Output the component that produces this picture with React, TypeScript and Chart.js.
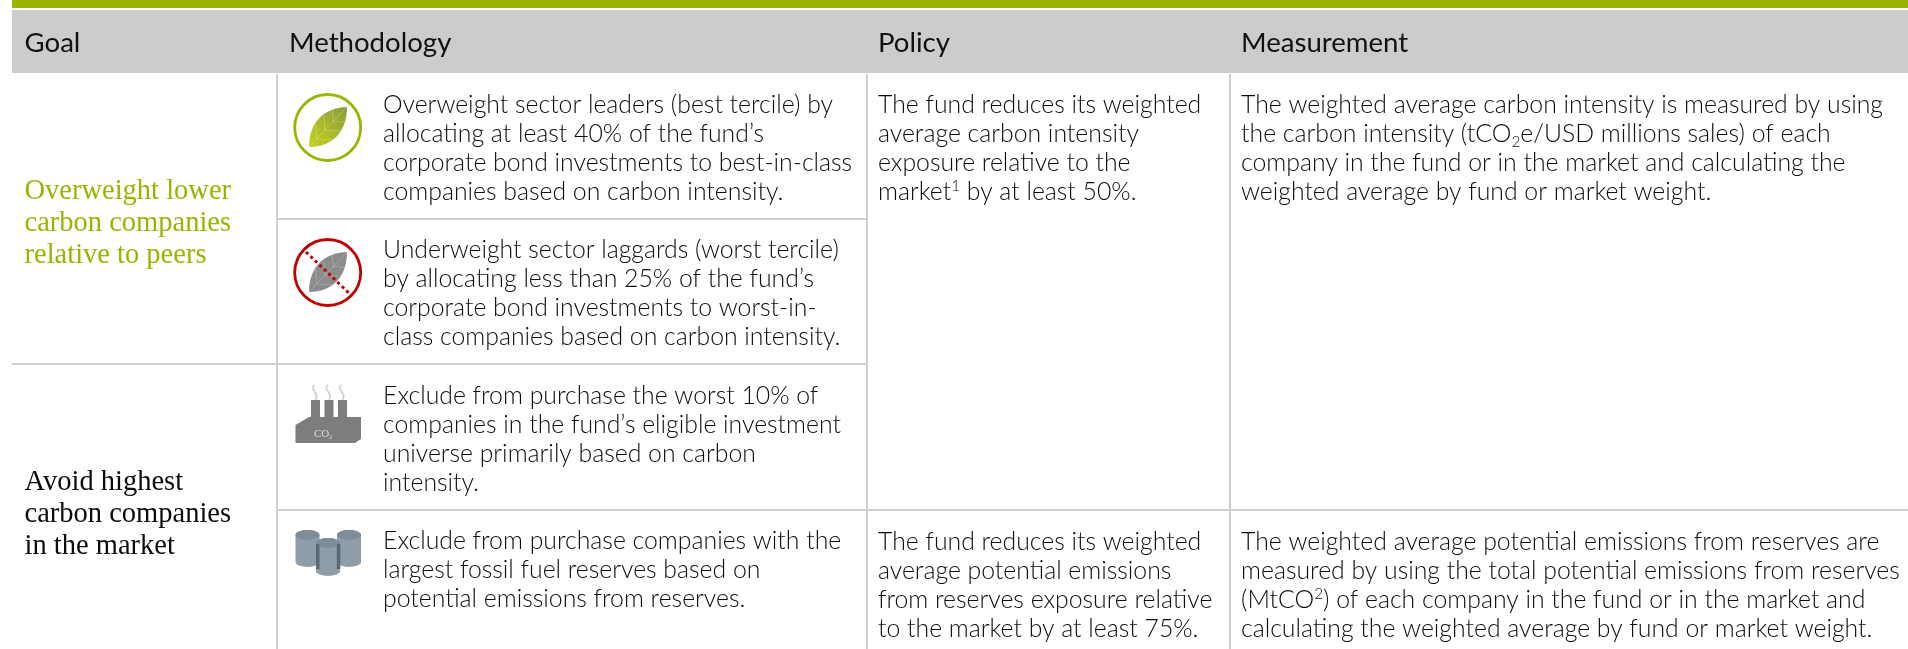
import React, { useEffect, useRef } from "react";
import { Chart, registerables } from "chart.js";

Chart.register(...registerables);

const headers = ["Goal", "Methodology", "Policy", "Measurement"];
const goalOverweight = ["Overweight lower", "carbon companies", "relative to peers"];
const goalAvoid = ["Avoid highest", "carbon companies", "in the market"];
const methodLeaders = [
  "Overweight sector leaders (best tercile) by",
  "allocating at least 40% of the fund’s",
  "corporate bond investments to best-in-class",
  "companies based on carbon intensity.",
];
const methodLaggards = [
  "Underweight sector laggards (worst tercile)",
  "by allocating less than 25% of the fund’s",
  "corporate bond investments to worst-in-",
  "class companies based on carbon intensity.",
];
const methodExclude = [
  "Exclude from purchase the worst 10% of",
  "companies in the fund’s eligible investment",
  "universe primarily based on carbon",
  "intensity.",
];
const methodReserves = [
  "Exclude from purchase companies with the",
  "largest fossil fuel reserves based on",
  "potential emissions from reserves.",
];
const policyIntensity = [
  "The fund reduces its weighted",
  "average carbon intensity",
  "exposure relative to the",
  "market^1 by at least 50%.",
];
const policyReserves = [
  "The fund reduces its weighted",
  "average potential emissions",
  "from reserves exposure relative",
  "to the market by at least 75%.",
];
const measureIntensity = [
  "The weighted average carbon intensity is measured by using",
  "the carbon intensity (tCO_2e/USD millions sales) of each",
  "company in the fund or in the market and calculating the",
  "weighted average by fund or market weight.",
];
const measureReserves = [
  "The weighted average potential emissions from reserves are",
  "measured by using the total potential emissions from reserves",
  "(MtCO^2) of each company in the fund or in the market and",
  "calculating the weighted average by fund or market weight.",
];

const GREEN = "#9ab400";
const INK = "#0c0c0c";
const RULE = "#cfcfcf";
const BODY_FONT = "300 24.8px Lato";
const HEAD_FONT = "400 27.6px Lato";
const SERIF_FONT = "400 28.5px 'Liberation Serif'";

type Block = { lines: string[]; x: number; y: number; step: number; font: string; color: string };
const body = (lines: string[], x: number, y: number, step = 28.9): Block => ({
  lines, x, y, step, font: BODY_FONT, color: INK,
});
const blocks: Block[] = [
  { lines: goalOverweight, x: 24.5, y: 198.5, step: 32, font: SERIF_FONT, color: GREEN },
  { lines: goalAvoid, x: 24.5, y: 489.5, step: 32, font: SERIF_FONT, color: INK },
  body(methodLeaders, 383, 113),
  body(methodLaggards, 383, 258),
  body(methodExclude, 383, 404),
  body(methodReserves, 383, 549),
  body(policyIntensity, 878, 113),
  body(policyReserves, 878, 550),
  body(measureIntensity, 1241, 113),
  body(measureReserves, 1241, 550),
];
const headerX = [24.5, 289, 878, 1241];

type Seg = [number, number, number, number, string, number];
const segments: Seg[] = [
  [12, 4, 1908, 4, GREEN, 8],
  [12, 41.5, 1908, 41.5, "#cccccc", 63],
  [277, 10, 277, 73, "#ffffff", 3],
  [867, 10, 867, 73, "#ffffff", 3],
  [1230, 10, 1230, 73, "#ffffff", 3],
  [277, 74, 277, 649, RULE, 2],
  [867, 74, 867, 649, RULE, 2],
  [1230, 74, 1230, 649, RULE, 2],
  [277, 219, 867, 219, RULE, 2],
  [12, 364, 867, 364, RULE, 2],
  [277, 510, 1908, 510, RULE, 2],
];

function drawRuns(ctx: CanvasRenderingContext2D, text: string, x: number, y: number, font: string, color: string) {
  const m = font.match(/^(\d+) ([\d.]+)px (.*)$/)!;
  const size = parseFloat(m[2]);
  ctx.fillStyle = color;
  let cx = x;
  for (const part of text.split(/([\^_]\d)/)) {
    if (!part) continue;
    if (/^[\^_]\d$/.test(part)) {
      ctx.font = `${m[1]} ${size * 0.62}px ${m[3]}`;
      const dy = part[0] === "^" ? -size * 0.36 : size * 0.2;
      ctx.fillText(part[1], cx, y + dy);
      cx += ctx.measureText(part[1]).width;
    } else {
      ctx.font = font;
      ctx.fillText(part, cx, y);
      cx += ctx.measureText(part).width;
    }
  }
}

function leaf(ctx: CanvasRenderingContext2D, dy: number, c1: string, c2: string, vein: string) {
  const g = ctx.createLinearGradient(309, 147 + dy, 347, 107 + dy);
  g.addColorStop(0, c1);
  g.addColorStop(1, c2);
  ctx.fillStyle = g;
  ctx.beginPath();
  ctx.moveTo(347, 107 + dy);
  ctx.bezierCurveTo(322, 108 + dy, 309, 124 + dy, 309, 147 + dy);
  ctx.bezierCurveTo(334, 147 + dy, 347, 130 + dy, 347, 107 + dy);
  ctx.fill();
  ctx.strokeStyle = vein;
  ctx.lineWidth = 0.7;
  ctx.beginPath();
  ctx.moveTo(309, 147 + dy);
  ctx.lineTo(347, 107 + dy);
  for (const t of [0.2, 0.42, 0.64]) {
    const bx = 309 + 38 * t;
    const by = 147 - 40 * t + dy;
    ctx.moveTo(bx, by);
    ctx.lineTo(bx - 1, by - 17 + t * 8);
    ctx.moveTo(bx, by);
    ctx.lineTo(bx + 17 - t * 8, by + 1);
  }
  ctx.stroke();
}

function ring(ctx: CanvasRenderingContext2D, cy: number, color: string) {
  ctx.strokeStyle = color;
  ctx.lineWidth = 2.8;
  ctx.beginPath();
  ctx.ellipse(327.7, cy, 33, 33, 0, 0, Math.PI * 2);
  ctx.stroke();
}

function factory(ctx: CanvasRenderingContext2D) {
  ctx.fillStyle = "#7d7d7d";
  for (const x of [311, 324.5, 338]) ctx.fillRect(x, 400, 9, 20);
  ctx.beginPath();
  ctx.moveTo(295.5, 425);
  ctx.lineTo(309, 417);
  ctx.lineTo(361, 417);
  ctx.lineTo(361, 439);
  ctx.lineTo(355, 443);
  ctx.lineTo(295.5, 443);
  ctx.fill();
  ctx.strokeStyle = "#d4d4d4";
  ctx.lineWidth = 2;
  for (const x of [315.5, 329, 342.5]) {
    ctx.beginPath();
    ctx.moveTo(x - 1, 385);
    ctx.bezierCurveTo(x - 7, 390, x + 5, 393, x, 400);
    ctx.stroke();
  }
  ctx.fillStyle = "#dddddd";
  ctx.font = "400 11px 'Liberation Serif'";
  ctx.fillText("CO", 314, 437);
  ctx.font = "400 6px 'Liberation Serif'";
  ctx.fillText("2", 329, 439);
}

function barrel(ctx: CanvasRenderingContext2D, x: number, y: number, w: number, h: number) {
  const rx = w / 2;
  ctx.fillStyle = "#8f9da9";
  ctx.beginPath();
  ctx.ellipse(x + rx, y + 5, rx, 5, 0, Math.PI, 0);
  ctx.lineTo(x + w, y + h - 5);
  ctx.ellipse(x + rx, y + h - 5, rx, 5, 0, 0, Math.PI);
  ctx.closePath();
  ctx.fill();
  ctx.fillStyle = "#7f8d99";
  ctx.beginPath();
  ctx.ellipse(x + rx, y + 5, rx, 5, 0, 0, Math.PI * 2);
  ctx.fill();
}

function barrels(ctx: CanvasRenderingContext2D) {
  barrel(ctx, 295.5, 530, 24, 37);
  barrel(ctx, 337, 530, 24, 37);
  barrel(ctx, 316, 538, 24, 38);
  ctx.fillStyle = "#566875";
  ctx.fillRect(316, 544, 3.5, 25);
  ctx.fillRect(336.8, 544, 3.5, 25);
}

const tablePlugin = {
  id: "tablePlugin",
  afterDatasetsDraw(chart: Chart) {
    const ctx = chart.ctx;
    ctx.save();
    ctx.textBaseline = "alphabetic";
    headers.forEach((h, i) => drawRuns(ctx, h, chart.scales.x.getPixelForValue(headerX[i]), chart.scales.y.getPixelForValue(51.5), HEAD_FONT, "#111111"));
    for (const b of blocks) {
      b.lines.forEach((line, i) => {
        drawRuns(ctx, line, chart.scales.x.getPixelForValue(b.x), chart.scales.y.getPixelForValue(b.y + i * b.step), b.font, b.color);
      });
    }
    ring(ctx, 127.5, "#9ab400");
    leaf(ctx, 0, "#c6d31c", "#8a9a3c", "rgba(255,255,255,0.35)");
    ring(ctx, 272.5, "#c00000");
    leaf(ctx, 145, "#8c8c8c", "#8c8c8c", "rgba(255,255,255,0.3)");
    ctx.strokeStyle = "#c00000";
    ctx.lineWidth = 3;
    ctx.setLineDash([3, 3.2]);
    ctx.beginPath();
    ctx.moveTo(306, 252);
    ctx.lineTo(351, 295);
    ctx.stroke();
    ctx.setLineDash([]);
    factory(ctx);
    barrels(ctx);
    ctx.restore();
  },
};

export default function App() {
  const ref = useRef<HTMLCanvasElement>(null);
  useEffect(() => {
    const chart = new Chart(ref.current!, {
      type: "scatter",
      data: {
        datasets: segments.map(([x1, y1, x2, y2, color, width]) => ({
          data: [{ x: x1, y: y1 }, { x: x2, y: y2 }],
          showLine: true,
          pointRadius: 0,
          borderColor: color,
          borderWidth: width,
          borderCapStyle: "butt" as const,
          tension: 0,
        })),
      },
      options: {
        animation: false,
        responsive: false,
        events: [],
        layout: { padding: 0 },
        plugins: { legend: { display: false }, tooltip: { enabled: false }, title: { display: false } },
        scales: {
          x: { type: "linear", min: 0, max: 1908, display: false },
          y: { type: "linear", min: 0, max: 649, reverse: true, display: false },
        },
      },
      plugins: [tablePlugin],
    });
    return () => chart.destroy();
  }, []);
  return (
    <div style={{ position: "absolute", left: 0, top: 0, width: 1908, height: 649, overflow: "hidden", background: "#fff" }}>
      <canvas ref={ref} width={1908} height={649} style={{ display: "block" }} />
    </div>
  );
}
